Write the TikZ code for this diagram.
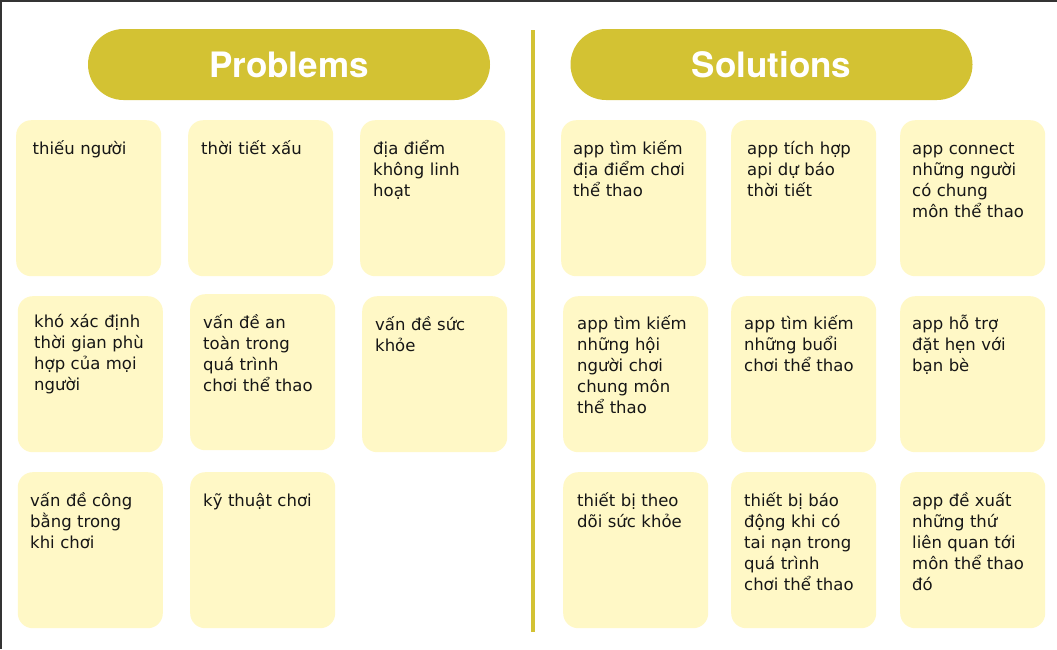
\documentclass[tikz,border=0pt]{standalone}
\usepackage{fontspec}
\setmainfont{DejaVu Sans}
\newfontfamily\titlefont{TeX Gyre Heros}
\definecolor{pillc}{RGB}{211,194,51}
\definecolor{cardc}{RGB}{255,248,198}
\definecolor{ink}{RGB}{22,22,22}
\definecolor{bordc}{RGB}{52,52,52}
\begin{document}
\begin{tikzpicture}[x=1pt,y=-1pt,
  card/.style={fill=cardc, draw=none, rounded corners=15pt, anchor=north west, inner sep=0pt, minimum width=145pt, minimum height=156pt},
  txt/.style={anchor=base west, align=left, inner sep=0pt, text width=140pt, font=\fontsize{16.5}{21.2}\selectfont, text=ink},
  pillst/.style={fill=pillc, draw=none, rounded corners=35.5pt, inner sep=0pt, minimum width=402pt, minimum height=71pt, text=white, font=\titlefont\fontsize{35}{38}\selectfont\bfseries}]
\useasboundingbox (0,0) rectangle (1057,649);
\fill[white] (0,0) rectangle (1057,649);
\draw[bordc, line width=4pt] (0,649) -- (0,0);
\draw[bordc, line width=3pt] (0,0) -- (1057,0);
% titles
\node[pillst] (tprob) at (289,64.5) {Problems};
\node[pillst] (tsol) at (771.5,64.5) {Solutions};
% divider
\coordinate (dtop) at (533,30);
\coordinate (dbot) at (533,632);
\draw[pillc, line width=4.5pt] (dtop) -- (dbot);
% problem cards
\node[card] (p1) at (16,120) {};
\node[card] (p2) at (188,120) {};
\node[card] (p3) at (360,120) {};
\node[card] (p4) at (17.6,296) {};
\node[card] (p5) at (190,294) {};
\node[card] (p6) at (362,296) {};
\node[card] (p7) at (17.6,472) {};
\node[card] (p8) at (190,472) {};
% solution cards
\node[card] (s1) at (561,120) {};
\node[card] (s2) at (731,120) {};
\node[card] (s3) at (900,120) {};
\node[card] (s4) at (563,296) {};
\node[card] (s5) at (731,296) {};
\node[card] (s6) at (900,296) {};
\node[card] (s7) at (563,472) {};
\node[card] (s8) at (731,472) {};
\node[card] (s9) at (900,472) {};
% problem texts
\node[txt] (tp1) at (32.5,154) {thiếu người};
\node[txt] (tp2) at (201,154) {thời tiết xấu};
\node[txt] (tp3) at (373,154) {địa điểm\\không linh\\hoạt};
\node[txt] (tp4) at (34,327) {khó xác định\\thời gian phù\\hợp của mọi\\người};
\node[txt] (tp5) at (203,328) {vấn đề an\\toàn trong\\quá trình\\chơi thể thao};
\node[txt] (tp6) at (375,330) {vấn đề sức\\khỏe};
\node[txt] (tp7) at (30,506) {vấn đề công\\bằng trong\\khi chơi};
\node[txt] (tp8) at (203,506) {kỹ thuật chơi};
% solution texts
\node[txt] (ts1) at (573,154) {app tìm kiếm\\địa điểm chơi\\thể thao};
\node[txt] (ts2) at (747,154) {app tích hợp\\api dự báo\\thời tiết};
\node[txt] (ts3) at (912,154) {app connect\\những người\\có chung\\môn thể thao};
\node[txt] (ts4) at (577,329) {app tìm kiếm\\những hội\\người chơi\\chung môn\\thể thao};
\node[txt] (ts5) at (744,329) {app tìm kiếm\\những buổi\\chơi thể thao};
\node[txt] (ts6) at (912,329) {app hỗ trợ\\đặt hẹn với\\bạn bè};
\node[txt] (ts7) at (577,506) {thiết bị theo\\dõi sức khỏe};
\node[txt] (ts8) at (744,506) {thiết bị báo\\động khi có\\tai nạn trong\\quá trình\\chơi thể thao};
\node[txt] (ts9) at (912,506) {app đề xuất\\những thứ\\liên quan tới\\môn thể thao\\đó};
\end{tikzpicture}
\end{document}
